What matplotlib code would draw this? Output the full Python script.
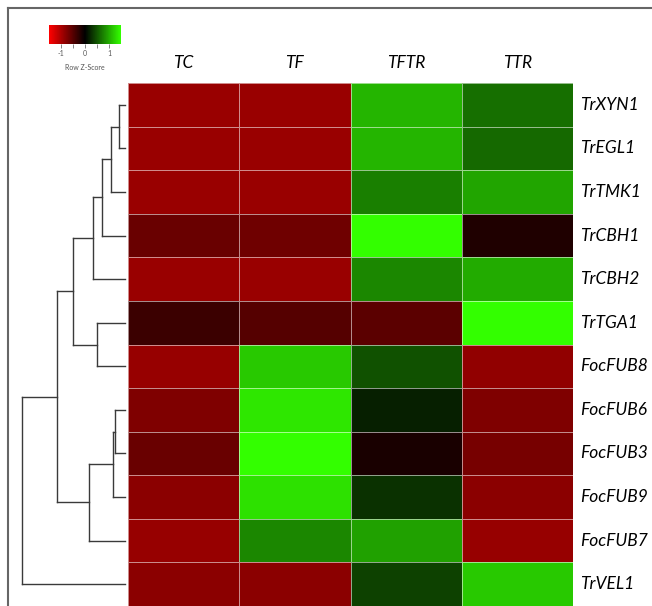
import numpy as np
import matplotlib
matplotlib.use("Agg")
import matplotlib.pyplot as plt
from matplotlib.colors import LinearSegmentedColormap
from matplotlib.lines import Line2D

# conditions (columns) and genes (rows, in dendrogram order)
conditions = ["TC", "TF", "TFTR", "TTR"]
genes = ["TrXYN1", "TrEGL1", "TrTMK1", "TrCBH1", "TrCBH2", "TrTGA1",
         "FocFUB8", "FocFUB6", "FocFUB3", "FocFUB9", "FocFUB7", "TrVEL1"]

# row z-scores
z_TrXYN1 = [-0.90, -0.90, 1.06, 0.65]
z_TrEGL1 = [-0.90, -0.90, 1.06, 0.62]
z_TrTMK1 = [-0.90, -0.90, 0.74, 0.97]
z_TrCBH1 = [-0.62, -0.65, 1.50, -0.18]
z_TrCBH2 = [-0.90, -0.90, 0.79, 1.00]
z_TrTGA1 = [-0.35, -0.50, -0.53, 1.50]
z_FocFUB8 = [-0.88, 1.18, 0.47, -0.85]
z_FocFUB6 = [-0.74, 1.35, 0.18, -0.74]
z_FocFUB3 = [-0.62, 1.50, -0.15, -0.70]
z_FocFUB9 = [-0.82, 1.32, 0.29, -0.82]
z_FocFUB7 = [-0.88, 0.79, 0.94, -0.88]
z_TrVEL1 = [-0.82, -0.82, 0.38, 1.18]

zscores = np.array([z_TrXYN1, z_TrEGL1, z_TrTMK1, z_TrCBH1, z_TrCBH2, z_TrTGA1,
                    z_FocFUB8, z_FocFUB6, z_FocFUB3, z_FocFUB9, z_FocFUB7, z_TrVEL1])

# row dendrogram: (child a, child b, height); leaves 0..11, new clusters 12..
merges = [(0, 1, 6), (12, 2, 14), (13, 3, 23), (14, 4, 32), (5, 6, 28),
          (15, 16, 52), (7, 8, 10.5), (18, 9, 12), (19, 10, 36),
          (17, 20, 68), (21, 11, 103)]

key_ticks = [-1, -0.5, 0, 0.5, 1]
key_labels = ["-1", "", "0", "", "1"]

plt.rcParams['font.family'] = ['Lato', 'DejaVu Sans']

W, H = 652, 606
fig = plt.figure(figsize=(W / 100, H / 100), dpi=100)

cmap = LinearSegmentedColormap.from_list("rg", ["#ff0000", "#000000", "#33ff00"])

# heatmap
ax = fig.add_axes([128 / W, 0, 445 / W, (H - 83) / H])
nr, nc = zscores.shape
mesh = ax.pcolormesh(np.arange(nc + 1), np.arange(nr + 1), zscores, cmap=cmap,
                     vmin=-1.5, vmax=1.5, edgecolors=(1, 1, 1, 0.55), linewidth=0.6)
ax.set_xlim(0, nc)
ax.set_ylim(nr, 0)
ax.axis('off')
for j, c in enumerate(conditions):
    ax.text(j + 0.5, -0.46, c, ha='center', va='center', fontsize=12.5, style='italic')
for i, g in enumerate(genes):
    ax.text(nc + 0.06, i + 0.5, g, ha='left', va='center', fontsize=12.5, style='italic')

# dendrogram
dax = fig.add_axes([10 / W, 0, 118 / W, (H - 83) / H])
dax.set_xlim(115, -3)
dax.set_ylim(nr, 0)
dax.axis('off')
pos = {i: (i + 0.5, 0.0) for i in range(nr)}
for k, (a, b, h) in enumerate(merges):
    ya, ha = pos[a]
    yb, hb = pos[b]
    lc = '#3a3a3a'
    dax.plot([ha, h], [ya, ya], color=lc, lw=1)
    dax.plot([hb, h], [yb, yb], color=lc, lw=1)
    dax.plot([h, h], [ya, yb], color=lc, lw=1)
    pos[nr + k] = ((ya + yb) / 2, h)

# colour key
kax = fig.add_axes([49 / W, 1 - 44 / H, 72 / W, 19 / H])
cb = fig.colorbar(mesh, cax=kax, orientation='horizontal')
cb.outline.set_visible(False)
cb.set_ticks(key_ticks)
cb.set_ticklabels(key_labels)
kax.tick_params(labelsize=5, length=3, width=0.5, colors='#555555', pad=1)
fig.text(85 / W, 1 - 67 / H, "Row Z-Score", ha='center', va='center', fontsize=5, color='#555555')

# frame around the figure panel
fig.add_artist(Line2D([8 / W, 8 / W], [0, 1 - 8 / H], color='#666666', lw=1.5))
fig.add_artist(Line2D([8 / W, 1], [1 - 8 / H, 1 - 8 / H], color='#666666', lw=1.5))

fig.savefig("out.png", dpi=100)
